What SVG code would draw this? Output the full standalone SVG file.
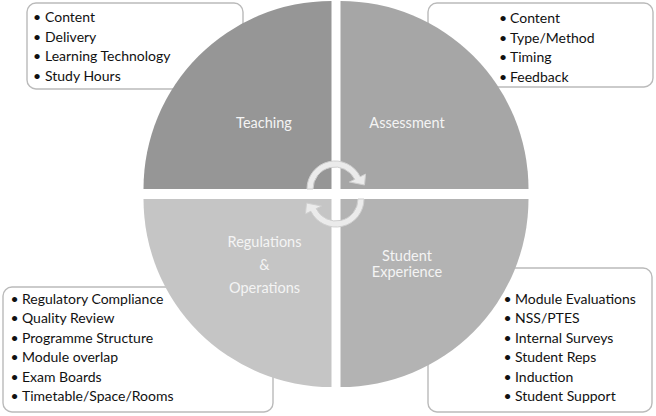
<svg xmlns="http://www.w3.org/2000/svg" width="656" height="416" viewBox="0 0 656 416">
<style>
.box{fill:#ffffff;stroke:#bababa;stroke-width:1.4}
.lst{font-family:Lato,"Liberation Sans",sans-serif;font-size:14px;fill:#111111}
.b{font-size:14px}
.lbl{font-family:Lato,"Liberation Sans",sans-serif;font-size:14.5px;fill:#f4f4f4;text-anchor:middle}
.arr{fill:#ebebeb;stroke:#cfcfcf;stroke-width:1}
</style>
<rect width="656" height="416" fill="#ffffff"/>
<g id="box-teaching">
<rect class="box" x="27" y="3" width="216" height="86" rx="9"/>
<text class="lst"><tspan class="b" x="33" y="22">•</tspan><tspan x="45" y="22">Content</tspan><tspan class="b" x="33" y="41.5">•</tspan><tspan x="45" y="41.5">Delivery</tspan><tspan class="b" x="33" y="61">•</tspan><tspan x="45" y="61">Learning Technology</tspan><tspan class="b" x="33" y="80.5">•</tspan><tspan x="45" y="80.5">Study Hours</tspan></text>
</g>
<g id="box-assessment">
<rect class="box" x="428" y="3" width="225" height="84" rx="9"/>
<text class="lst"><tspan class="b" x="499" y="23">•</tspan><tspan x="510" y="23">Content</tspan><tspan class="b" x="499" y="42.5">•</tspan><tspan x="510" y="42.5">Type/Method</tspan><tspan class="b" x="499" y="62">•</tspan><tspan x="510" y="62">Timing</tspan><tspan class="b" x="499" y="81.5">•</tspan><tspan x="510" y="81.5">Feedback</tspan></text>
</g>
<g id="box-regulations">
<rect class="box" x="3" y="287" width="270" height="125" rx="9"/>
<text class="lst"><tspan class="b" x="10.5" y="303.5">•</tspan><tspan x="22" y="303.5">Regulatory Compliance</tspan><tspan class="b" x="10.5" y="323">•</tspan><tspan x="22" y="323">Quality Review</tspan><tspan class="b" x="10.5" y="342.5">•</tspan><tspan x="22" y="342.5">Programme Structure</tspan><tspan class="b" x="10.5" y="362">•</tspan><tspan x="22" y="362">Module overlap</tspan><tspan class="b" x="10.5" y="381.5">•</tspan><tspan x="22" y="381.5">Exam Boards</tspan><tspan class="b" x="10.5" y="401">•</tspan><tspan x="22" y="401">Timetable/Space/Rooms</tspan></text>
</g>
<g id="box-student">
<rect class="box" x="428" y="268" width="224" height="144" rx="9"/>
<text class="lst"><tspan class="b" x="503.5" y="303.5">•</tspan><tspan x="515" y="303.5">Module Evaluations</tspan><tspan class="b" x="503.5" y="323">•</tspan><tspan x="515" y="323">NSS/PTES</tspan><tspan class="b" x="503.5" y="342.5">•</tspan><tspan x="515" y="342.5">Internal Surveys</tspan><tspan class="b" x="503.5" y="362">•</tspan><tspan x="515" y="362">Student Reps</tspan><tspan class="b" x="503.5" y="381.5">•</tspan><tspan x="515" y="381.5">Induction</tspan><tspan class="b" x="503.5" y="401">•</tspan><tspan x="515" y="401">Student Support</tspan></text>
</g>
<g id="teaching">
<path d="M331.5,189 L143.5,189 A188,188 0 0 1 331.5,1 Z" fill="#969696"/>
<text class="lbl" x="264" y="128">Teaching</text>
</g>
<g id="assessment">
<path d="M340.5,189 L340.5,1 A188,188 0 0 1 528.5,189 Z" fill="#a6a6a6"/>
<text class="lbl" x="407" y="128">Assessment</text>
</g>
<g id="student-experience">
<path d="M340.5,199 L528.5,199 A188,188 0 0 1 340.5,387 Z" fill="#b3b3b3"/>
<text class="lbl" x="407" y="261">Student</text>
<text class="lbl" x="407" y="277">Experience</text>
</g>
<g id="regulations">
<path d="M331.5,199 L331.5,387 A188,188 0 0 1 143.5,199 Z" fill="#c5c5c5"/>
<text class="lbl" x="264.5" y="247">Regulations</text>
<text class="lbl" x="264.5" y="270">&amp;</text>
<text class="lbl" x="264.5" y="293">Operations</text>
</g>
<g id="connectors">
<path id="arrow-top" class="arr" d="M307,189 A28,28 0 0 1 360.17,176.73 L365.56,174.1 L364.5,185 L349.38,181.99 L354.77,179.36 A22,22 0 0 0 313,189 Z"/>
<path id="arrow-bottom" class="arr" transform="rotate(180 335.5 194)" d="M307,189 A28,28 0 0 1 360.17,176.73 L365.56,174.1 L364.5,185 L349.38,181.99 L354.77,179.36 A22,22 0 0 0 313,189 Z"/>
</g>
</svg>
